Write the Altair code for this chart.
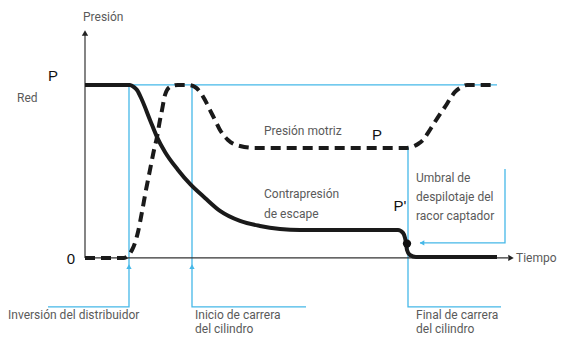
import altair as alt
import pandas as pd

# ---- data (time in arbitrary units, pressure as fraction of network pressure P) ----
solid_t = [0, 4.5, 4.9, 5.2, 5.7, 6.5, 7.2, 8.0, 9.3, 10.5, 12.0, 13.5, 15.5, 17.5, 19.5, 21.5,
           31.3, 31.8, 32.0, 32.1, 32.2, 32.5, 33.1, 41.2]
solid_p = [1.0, 1.0, 0.988, 0.971, 0.913, 0.798, 0.699, 0.613, 0.509, 0.428, 0.347, 0.272, 0.214,
           0.185, 0.168, 0.162, 0.162, 0.145, 0.116, 0.087, 0.046, 0.017, 0.006, 0.006]

dashed_t = [0, 3.9, 4.3, 4.7, 5.0, 5.3, 5.7, 6.1, 6.5, 6.9, 7.2, 7.5, 7.7, 8.0, 8.5, 9.3, 10.3,
            11.0, 11.5, 12.0, 12.5, 13.0, 13.5, 14.3, 15.5, 17.0, 32.0, 32.7, 33.3, 33.8, 34.3,
            34.8, 35.5, 36.0, 36.5, 37.0, 37.5, 38.2, 41.0]
dashed_p = [0, 0, 0.012, 0.046, 0.087, 0.150, 0.266, 0.393, 0.509, 0.624, 0.699, 0.798, 0.855,
            0.942, 0.988, 1.0, 1.0, 0.988, 0.960, 0.913, 0.855, 0.798, 0.740, 0.682, 0.647, 0.636,
            0.636, 0.642, 0.659, 0.682, 0.723, 0.769, 0.832, 0.873, 0.919, 0.960, 0.983, 1.0, 1.0]

# annotation guide paths (blue)
guide_id = ["top", "top", "inv", "inv", "inv", "ini", "ini", "ini", "fin", "fin", "fin", "umb", "umb", "umb"]
guide_t = [4.4, 41.2, 4.4, 4.4, -3.7, 10.7, 10.7, 22.1, 32.3, 32.3, 41.6, 42.0, 42.0, 33.5]
guide_p = [1.0, 1.0, 1.0, -0.283, -0.283, 1.0, -0.283, -0.283, 0.642, -0.283, -0.283, 0.514, 0.087, 0.087]

# axes
axis_id = ["y", "y", "x", "x"]
axis_t = [0, 0, 0, 42.3]
axis_p = [0, 1.29, 0, 0]

# texts
gray_text = ["Presión", "Red", "Presión motriz", "Contrapresión", "de escape", "Umbral de",
             "despilotaje del", "racor captador", "Tiempo", "Inversión del distribuidor",
             "Inicio de carrera", "del cilindro", "Final de carrera", "del cilindro"]
gray_t = [-0.2, -6.8, 17.9, 17.9, 17.9, 33.1, 33.1, 33.1, 43.1, -7.7, 11.0, 11.0, 33.1, 33.1]
gray_p = [1.393, 0.925, 0.734, 0.370, 0.254, 0.462, 0.353, 0.243, 0.0, -0.329, -0.329, -0.410,
          -0.329, -0.410]
black_text = ["P", "0", "P", "P'"]
black_t = [-3.2, -1.4, 29.2, 31.5]
black_p = [1.052, -0.006, 0.711, 0.300]

BLUE = "#45B8E8"
FONT = "Roboto, sans-serif"

xs = alt.Scale(domain=[-7.7, 47.5], nice=False, zero=False)
ys = alt.Scale(domain=[-0.457, 1.445], nice=False, zero=False)
X = lambda f: alt.X(f, type="quantitative", scale=xs, axis=None)
Y = lambda f: alt.Y(f, type="quantitative", scale=ys, axis=None)

solid_df = pd.DataFrame({"t": solid_t, "p": solid_p, "o": range(len(solid_t))})
dashed_df = pd.DataFrame({"t": dashed_t, "p": dashed_p, "o": range(len(dashed_t))})
guide_df = pd.DataFrame({"id": guide_id, "t": guide_t, "p": guide_p, "o": range(len(guide_t))})
axis_df = pd.DataFrame({"id": axis_id, "t": axis_t, "p": axis_p, "o": range(len(axis_t))})
gray_df = pd.DataFrame({"text": gray_text, "t": gray_t, "p": gray_p})
black_df = pd.DataFrame({"text": black_text, "t": black_t, "p": black_p})

guides = alt.Chart(guide_df).mark_line(color=BLUE, strokeWidth=1.3).encode(
    x=X("t"), y=Y("p"), detail="id:N", order="o:Q")

up_arrows = alt.Chart(pd.DataFrame({"t": [4.4, 10.7], "p": [-0.05, -0.05]})).mark_point(
    shape="triangle-up", filled=True, color=BLUE, size=28, opacity=1).encode(x=X("t"), y=Y("p"))
left_arrow = alt.Chart(pd.DataFrame({"t": [33.7], "p": [0.087]})).mark_point(
    shape="triangle-left", filled=True, color=BLUE, size=28, opacity=1).encode(x=X("t"), y=Y("p"))

axes = alt.Chart(axis_df).mark_line(color="#333333", strokeWidth=1.2).encode(
    x=X("t"), y=Y("p"), detail="id:N", order="o:Q")
axis_up = alt.Chart(pd.DataFrame({"t": [0], "p": [1.30]})).mark_point(
    shape="triangle-up", filled=True, color="#222222", size=40, opacity=1).encode(x=X("t"), y=Y("p"))
axis_right = alt.Chart(pd.DataFrame({"t": [42.6], "p": [0]})).mark_point(
    shape="triangle-right", filled=True, color="#222222", size=40, opacity=1).encode(x=X("t"), y=Y("p"))

solid = alt.Chart(solid_df).mark_line(color="#1a1a1a", strokeWidth=4, interpolate="monotone").encode(
    x=X("t"), y=Y("p"), order="o:Q")
dashed = alt.Chart(dashed_df).mark_line(color="#1a1a1a", strokeWidth=4, interpolate="monotone",
                                        strokeDash=[10, 6]).encode(x=X("t"), y=Y("p"), order="o:Q")

dot = alt.Chart(pd.DataFrame({"t": [32.2], "p": [0.083]})).mark_point(
    shape="circle", filled=True, color="#111111", size=70, opacity=1).encode(x=X("t"), y=Y("p"))

gray_labels = alt.Chart(gray_df).mark_text(align="left", baseline="middle", font=FONT,
                                           fontSize=12, color="#5a5a5a").encode(
    x=X("t"), y=Y("p"), text="text:N")
black_labels = alt.Chart(black_df).mark_text(align="center", baseline="middle",
                                             font="Liberation Sans, Arial, sans-serif",
                                             fontSize=15, color="#111111").encode(
    x=X("t"), y=Y("p"), text="text:N")

chart = alt.layer(guides, up_arrows, left_arrow, axes, axis_up, axis_right, solid, dashed, dot,
                  gray_labels, black_labels).properties(
    width=552, height=329, padding=0, autosize=alt.AutoSizeParams(type="none"),
    background="white").configure_view(stroke=None)

chart.save("out.html", embed_options={"renderer": "svg", "actions": False})
